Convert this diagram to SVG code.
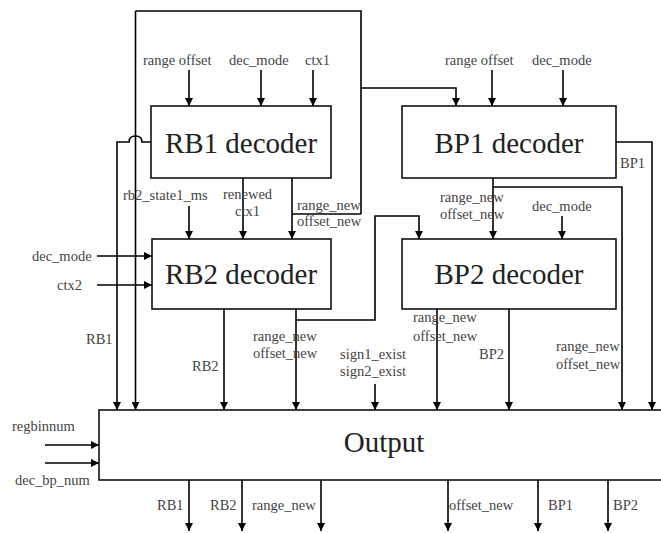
<svg xmlns="http://www.w3.org/2000/svg" width="661" height="533" viewBox="0 0 661 533">
<defs>
<marker id="ah" markerUnits="userSpaceOnUse" markerWidth="8" markerHeight="8" refX="8" refY="4" orient="auto">
<path d="M0,0 L8,4 L0,8 z" fill="#000"/>
</marker>
<style>
.box{fill:#fff;stroke:#111;stroke-width:1.6}
.title{font-family:"Liberation Serif","Times New Roman",serif;font-size:29px;fill:#222;text-anchor:middle}
.lbl{font-family:"Liberation Serif","Times New Roman",serif;font-size:14.5px;fill:#444}
.w{fill:none;stroke:#000;stroke-width:1.6}
.a{fill:none;stroke:#000;stroke-width:1.6;marker-end:url(#ah)}
</style>
</defs>
<rect width="661" height="533" fill="#fff"/>

<g id="connectors">
<path class="w" d="M361,214 V11 H135.5"/>
<path class="a" d="M135.5,11 V410"/>
<path class="a" d="M361,88 H456 V106"/>
<path class="a" d="M292,178 V239"/>
<path class="w" d="M292,214 H361"/>
<path class="a" d="M151,142 H142 Q142,136 135.5,136 Q129,136 129,142 H117 V410"/>
<path class="a" d="M189,70 V106"/>
<path class="a" d="M261,70 V106"/>
<path class="a" d="M313,70 V106"/>
<path class="a" d="M492,70 V106"/>
<path class="a" d="M563,70 V106"/>
<path class="a" d="M243,178 V239"/>
<path class="a" d="M189,206 V239"/>
<path class="a" d="M97,256 H152"/>
<path class="a" d="M97,285 H152"/>
<path class="a" d="M224,309 V410"/>
<path class="a" d="M296,309 V410"/>
<path class="a" d="M296,320 H375 V216 H419 V239"/>
<path class="a" d="M375,384 V410"/>
<path class="a" d="M493,178 V239"/>
<path class="a" d="M493,187 H622 V410"/>
<path class="a" d="M616,142 H652 V410"/>
<path class="a" d="M562,216 V239"/>
<path class="a" d="M437,309 V410"/>
<path class="a" d="M509,309 V410"/>
<path class="a" d="M45,445 H99"/>
<path class="a" d="M45,463 H99"/>
<path class="a" d="M189,480 V531"/>
<path class="a" d="M242,480 V531"/>
<path class="a" d="M321,480 V531"/>
<path class="a" d="M448,480 V531"/>
<path class="a" d="M538,480 V531"/>
<path class="a" d="M608,480 V531"/>
</g>

<g id="rb1">
<rect class="box" x="151" y="106" width="180" height="72"/>
<text class="title" x="241" y="153">RB1 decoder</text>
</g>
<g id="bp1">
<rect class="box" x="402" y="106" width="214" height="72"/>
<text class="title" x="509" y="153">BP1 decoder</text>
</g>
<g id="rb2">
<rect class="box" x="152" y="239" width="179" height="70"/>
<text class="title" x="241" y="284">RB2 decoder</text>
</g>
<g id="bp2">
<rect class="box" x="402" y="239" width="214" height="70"/>
<text class="title" x="509" y="284">BP2 decoder</text>
</g>
<g id="output">
<rect class="box" x="99" y="410" width="565" height="70"/>
<text class="title" x="384" y="452">Output</text>
</g>

<g id="labels">
<text class="lbl" x="143" y="65">range offset</text>
<text class="lbl" x="229" y="65">dec_mode</text>
<text class="lbl" x="305" y="65">ctx1</text>
<text class="lbl" x="445" y="65">range offset</text>
<text class="lbl" x="532" y="65">dec_mode</text>
<text class="lbl" x="620" y="168">BP1</text>
<text class="lbl" x="123" y="200">rb2_state1_ms</text>
<text class="lbl" x="223" y="199">renewed</text>
<text class="lbl" x="235" y="216">ctx1</text>
<text class="lbl" x="297" y="210">range_new</text>
<text class="lbl" x="297" y="226">offset_new</text>
<text class="lbl" x="440" y="202">range_new</text>
<text class="lbl" x="440" y="219">offset_new</text>
<text class="lbl" x="532" y="211">dec_mode</text>
<text class="lbl" x="32" y="261">dec_mode</text>
<text class="lbl" x="57" y="290">ctx2</text>
<text class="lbl" x="86" y="344">RB1</text>
<text class="lbl" x="192" y="371">RB2</text>
<text class="lbl" x="253" y="341">range_new</text>
<text class="lbl" x="253" y="358">offset_new</text>
<text class="lbl" x="340" y="359">sign1_exist</text>
<text class="lbl" x="340" y="376">sign2_exist</text>
<text class="lbl" x="413" y="322">range_new</text>
<text class="lbl" x="413" y="341">offset_new</text>
<text class="lbl" x="479" y="359">BP2</text>
<text class="lbl" x="556" y="351">range_new</text>
<text class="lbl" x="556" y="369">offset_new</text>
<text class="lbl" x="12" y="431">regbinnum</text>
<text class="lbl" x="15" y="485">dec_bp_num</text>
<text class="lbl" x="157" y="510">RB1</text>
<text class="lbl" x="210" y="510">RB2</text>
<text class="lbl" x="252" y="510">range_new</text>
<text class="lbl" x="449" y="510">offset_new</text>
<text class="lbl" x="548" y="510">BP1</text>
<text class="lbl" x="613" y="510">BP2</text>
</g>
</svg>
